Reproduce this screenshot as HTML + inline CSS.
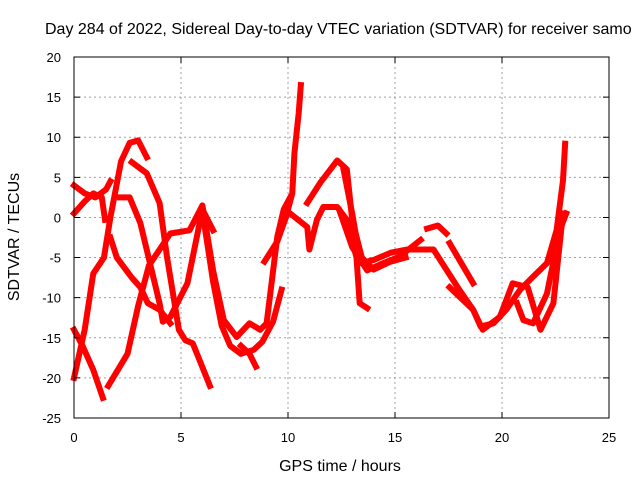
<!DOCTYPE html>
<html><head><meta charset="utf-8"><style>
body{margin:0;background:#fff;}
svg{display:block;font-family:"Liberation Sans",sans-serif;}
</style></head><body>
<svg id="chart" width="640" height="480" viewBox="0 0 640 480">
<rect width="640" height="480" fill="#fff"/>
<g id="grid"></g>
<g id="series"></g>
<rect x="74" y="57" width="535" height="361" fill="none" stroke="#000" stroke-width="1"/>
<g id="ticks" font-size="13" fill="#000"></g>
<text x="45" y="34" font-size="16">Day 284 of 2022, Sidereal Day-to-day VTEC variation (SDTVAR) for receiver samo</text>
<text x="340" y="471" font-size="16" text-anchor="middle">GPS time / hours</text>
<text transform="translate(19,237) rotate(-90)" font-size="16" text-anchor="middle">SDTVAR / TECUs</text>
</svg>
<script>
const xTicks=[0,5,10,15,20,25];
const yTicks=[20,15,10,5,0,-5,-10,-15,-20,-25];
const sA=[[0,-20],[0.5,-14],[0.9,-7],[1.4,-5],[1.7,0],[2.2,7],[2.6,9.3],[3,9.6],[3.4,7.5]];
const sB=[[2.7,6.9],[3.4,5.5],[4,1.8],[4.35,-5],[4.7,-10.7],[4.9,-14],[5.2,-15.3],[5.55,-15.7],[5.9,-18],[6.35,-21]];
const sC=[[0,0.5],[0.5,2],[0.9,3],[1.3,2.5],[1.45,-0.3]];
const sD=[[0,4],[0.5,3],[1,2.5],[1.5,3.5],[1.7,4.5]];
const sE=[[1.7,-2.5],[2,-5],[2.7,-7.5],[3.1,-8.7],[3.45,-10.7],[4,-11.5],[4.5,-13.2]];
const sF=[[2.15,2.5],[2.6,2.5],[3.1,-0.7],[3.55,-5.7],[4,-10.7],[4.15,-13],[4.5,-12.4],[5.3,-8.2],[6,1],[6.5,-1.6]];
const sG=[[1.6,-21],[2.5,-17],[3,-11],[3.5,-6],[4.5,-2],[5.4,-1.6],[6,1.5],[6.5,-6.6],[7,-12.8],[7.6,-14.9],[8.2,-13.2],[8.7,-14],[9,-13.2],[9.5,-2.4],[9.8,1],[10.1,2.5]];
const sH=[[6.1,-1],[6.5,-8],[6.9,-13.5],[7.3,-16],[7.8,-17],[8.4,-16.5],[8.8,-15.5],[9.3,-13],[9.7,-9]];
const sI=[[7.8,-16],[8.2,-17],[8.5,-18.6]];
const sJ=[[8.9,-5.5],[9.5,-3],[9.9,0],[10.2,3],[10.3,8],[10.5,13],[10.6,16.5]];
const sK=[[10.9,1.8],[11.5,4.3],[12.3,7.1],[12.75,6],[13,-0.3],[13.45,-5],[14,-6.5],[14.8,-5.5],[15.5,-5]];
const sL=[[10.1,0.5],[10.9,-1.2],[11,-4],[11.35,-0.3],[11.65,1.3],[12.3,1.3],[12.75,-0.3],[13.2,-5],[13.35,-10.7],[13.7,-11.3]];
const sM=[[12.6,5.9],[13,0.5],[13.4,-5.7],[14,-5.3],[14.8,-4.4],[15.55,-4],[16.8,-4],[17.4,-6.5],[18,-9],[18.65,-11.5],[19,-13.6],[19.6,-13.2],[20.2,-11.5],[20.85,-9],[21.45,-7.4],[22.1,-5.7],[22.55,-1.6],[22.85,4.6],[22.95,9.2]];
const sN=[[12.4,0.9],[13,-3.7],[13.7,-6.6],[14.45,-5.7],[15.2,-4.9],[16.2,-2.8]];
const sO=[[16.5,-1.4],[17,-1],[17.4,-2]];
const sP=[[17.55,-3.2],[18.1,-5.7],[18.65,-8.2]];
const sQ=[[17.55,-8.7],[18.65,-11.5],[19.1,-14],[19.9,-12.4],[20.5,-8.2],[21.2,-8.7],[21.8,-14],[22.4,-10.7],[22.85,0.5]];
const sR=[[20.7,-10.7],[21,-12.8],[21.45,-13.2],[22.1,-9.5],[22.7,-1.6],[23,0.5]];
const sS=[[0,-14],[0.4,-16],[0.9,-19],[1.35,-22.5]];
const allSeries=[sA,sB,sC,sD,sE,sF,sG,sH,sI,sJ,sK,sL,sM,sN,sO,sP,sQ,sR,sS];
const NS="http://www.w3.org/2000/svg";
const X0=74,X1=609,Y0=418,Y1=57;
function xs(v){return X0+(v-0)/25*(X1-X0);}
function ys(v){return Y0-(v+25)/45*(Y0-Y1);}
const grid=document.getElementById('grid'),ticks=document.getElementById('ticks'),ser=document.getElementById('series');
xTicks.forEach(t=>{
 const x=xs(t);
 if(t>0&&t<25){const l=document.createElementNS(NS,'line');
 
 
 l.setAttribute('x1',x);l.setAttribute('x2',x);l.setAttribute('y1',Y1);l.setAttribute('y2',Y0);
 l.setAttribute('stroke','#a0a0a0');l.setAttribute('stroke-dasharray','2,3');grid.appendChild(l);}
 const tx=document.createElementNS(NS,'text');
 
 
 tx.setAttribute('x',x);tx.setAttribute('y',442);tx.setAttribute('text-anchor','middle');tx.textContent=t;ticks.appendChild(tx);
 const tk=document.createElementNS(NS,'path');
 
 
 tk.setAttribute('d',`M${x},${Y0}v-6M${x},${Y1}v6`);tk.setAttribute('stroke','#000');ticks.appendChild(tk);
});
yTicks.forEach(t=>{
 const y=ys(t);
 if(t>-25&&t<20){const l=document.createElementNS(NS,'line');
 
 
 l.setAttribute('x1',X0);l.setAttribute('x2',X1);l.setAttribute('y1',y);l.setAttribute('y2',y);
 l.setAttribute('stroke','#a0a0a0');l.setAttribute('stroke-dasharray','2,3');grid.appendChild(l);}
 const tx=document.createElementNS(NS,'text');
 
 
 tx.setAttribute('x',61);tx.setAttribute('y',y+5);tx.setAttribute('text-anchor','end');tx.textContent=t;ticks.appendChild(tx);
 const tk=document.createElementNS(NS,'path');
 
 
 tk.setAttribute('d',`M${X0},${y}h6M${X1},${y}h-6`);tk.setAttribute('stroke','#000');ticks.appendChild(tk);
});
allSeries.forEach(s=>{
 const p=document.createElementNS(NS,'polyline');
 
 
 p.setAttribute('points',s.map(d=>xs(d[0])+','+ys(d[1])).join(' '));
 p.setAttribute('fill','none');p.setAttribute('stroke','#ff0000');p.setAttribute('stroke-width','6');
 p.setAttribute('stroke-linejoin','round');p.setAttribute('stroke-linecap','square');
 ser.appendChild(p);
});
</script>
</body></html>
